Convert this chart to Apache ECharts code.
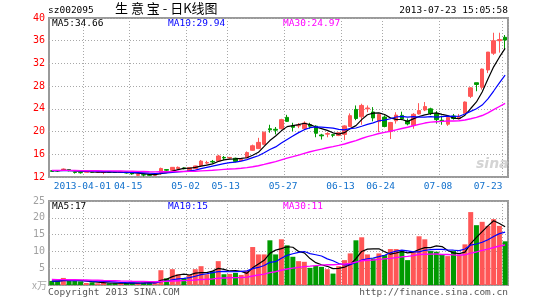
<!DOCTYPE html>
<html>
<head>
<meta charset="utf-8">
<script src="https://cdn.jsdelivr.net/npm/echarts@6/dist/echarts.min.js"></script>
<style>
html,body{margin:0;padding:0;background:#fff;}
#chart{width:545px;height:300px;}
</style>
</head>
<body>
<div id="chart"></div>
<script>
// ---------------- data ----------------
const dates = [
 '2013-03-22','2013-03-25','2013-03-26','2013-03-27','2013-03-28','2013-03-29',
 '2013-04-01','2013-04-02','2013-04-03','2013-04-08','2013-04-09','2013-04-10','2013-04-11','2013-04-12',
 '2013-04-15','2013-04-16','2013-04-17','2013-04-18','2013-04-19','2013-04-22','2013-04-23','2013-04-24','2013-04-25','2013-04-26',
 '2013-05-02','2013-05-03','2013-05-06','2013-05-07','2013-05-08','2013-05-09','2013-05-10',
 '2013-05-13','2013-05-14','2013-05-15','2013-05-16','2013-05-17','2013-05-20','2013-05-21','2013-05-22','2013-05-23','2013-05-24',
 '2013-05-27','2013-05-28','2013-05-29','2013-05-30','2013-05-31','2013-06-03','2013-06-04','2013-06-05','2013-06-06','2013-06-07',
 '2013-06-13','2013-06-14','2013-06-17','2013-06-18','2013-06-19','2013-06-20','2013-06-21',
 '2013-06-24','2013-06-25','2013-06-26','2013-06-27','2013-06-28','2013-07-01','2013-07-02','2013-07-03','2013-07-04','2013-07-05',
 '2013-07-08','2013-07-09','2013-07-10','2013-07-11','2013-07-12','2013-07-15','2013-07-16','2013-07-17','2013-07-18','2013-07-19',
 '2013-07-22','2013-07-23'
];
const opens = [
 13.10,13.15,13.15,13.30,12.85,12.80,12.85,12.95,12.85,12.80,12.90,12.85,12.80,12.90,12.70,12.30,12.40,12.40,12.30,12.80,
 13.30,13.20,13.50,13.60,13.00,13.50,14.00,14.45,14.75,14.80,15.45,15.35,15.30,14.90,15.40,16.70,17.00,17.75,20.50,20.40,
 20.50,22.50,21.00,21.00,20.50,21.20,20.95,19.40,19.55,19.45,19.30,19.50,20.90,23.90,22.60,24.00,23.45,21.75,22.55,20.00,
 21.90,22.85,21.85,21.10,23.10,23.80,24.00,23.20,22.00,21.30,22.75,22.30,23.20,26.20,28.60,27.80,30.85,33.80,36.00,36.60
];
const closes = [
 13.00,13.05,13.40,13.10,12.80,12.75,12.90,12.85,12.90,12.85,12.85,12.80,12.90,12.70,12.55,12.45,12.35,12.30,12.45,13.50,
 13.20,13.70,13.70,13.45,13.65,13.95,14.80,14.55,14.65,15.70,15.35,15.45,14.75,15.10,16.30,17.50,18.10,19.90,20.30,20.25,
 22.10,21.80,20.75,21.15,21.50,20.95,19.70,19.25,19.65,19.35,19.80,21.00,22.80,22.30,24.60,24.15,22.40,23.00,20.90,21.60,
 22.90,22.25,21.35,23.04,23.70,24.40,23.20,22.10,21.80,22.50,22.30,22.60,25.20,27.70,28.30,31.00,34.00,36.00,36.20,36.11
];
const lows = [
 12.95,12.90,13.10,13.00,12.60,12.60,12.80,12.75,12.70,12.50,12.80,12.70,12.75,12.60,12.40,12.20,12.10,12.20,12.25,12.40,
 13.05,13.10,13.40,13.35,12.90,13.40,13.80,14.20,14.40,14.70,15.00,15.20,14.60,14.80,15.30,16.60,17.00,17.60,19.80,19.50,
 20.40,21.70,20.05,20.60,20.40,20.50,19.00,18.60,19.00,19.00,19.20,18.50,20.80,22.00,21.20,23.40,21.80,19.90,20.75,18.70,
 21.40,22.00,21.10,20.50,23.00,23.60,22.90,21.40,21.20,21.00,22.10,22.10,23.10,25.90,27.10,27.40,30.30,33.50,33.90,34.40
];
const highs = [
 13.15,13.20,13.50,13.35,12.90,12.90,12.95,13.00,12.95,12.90,12.95,12.90,12.95,12.95,12.75,12.55,12.60,12.45,12.50,13.65,
 13.35,13.75,13.85,13.70,13.75,14.00,15.00,14.85,15.00,15.90,15.70,15.50,15.40,15.15,16.50,17.70,18.90,19.95,21.20,20.80,
 22.25,22.95,21.55,21.50,21.80,21.55,21.10,19.60,19.90,19.60,19.90,21.10,23.20,24.60,24.90,24.60,24.30,23.10,22.85,21.70,
 23.40,23.50,22.30,23.25,25.00,25.20,24.20,23.60,22.80,22.60,23.10,23.10,25.30,27.80,28.60,31.10,34.00,37.40,37.40,37.00
];
const volumes = [
 1.2,1.3,2.1,1.2,1.2,1.1,0.6,0.8,0.5,0.6,0.5,0.5,0.5,0.6,0.7,0.6,0.7,0.8,0.6,4.4,
 2.0,4.7,3.2,2.0,3.0,4.7,5.6,3.2,4.1,7.1,3.2,3.3,3.6,3.0,4.3,11.3,9.1,9.1,13.3,9.1,
 13.6,11.8,8.4,7.1,6.9,5.1,5.7,5.4,4.7,3.4,5.6,7.4,9.4,13.3,14.2,9.1,7.9,9.4,8.9,10.7,
 10.7,10.1,7.4,10.1,14.5,13.6,10.1,9.9,9.1,8.6,10.1,9.1,12.1,21.7,17.8,18.8,17.6,19.6,17.6,13.0
];
// sessions before the first visible day (estimated from where the MA lines start)
const priorCloses = [
 13.25,13.30,13.20,13.15,13.30,13.35,13.20,13.10,13.15,13.25,13.30,13.20,13.10,13.05,13.15,
 13.20,13.25,13.10,13.00,13.05,13.15,13.20,13.10,13.05,13.15,13.20,13.10,13.15,13.20
];
const priorVolumes = [
 2.0,1.8,2.2,1.9,2.1,1.7,2.0,1.9,2.3,1.8,1.9,2.0,1.7,2.1,1.8,1.9,2.0,1.8,
 1.2,1.1,1.3,1.0,1.2,1.1,1.3,1.2,1.0,1.1,1.2
];
// date axis: dotted grid lines and tick labels
const gridDates  = ['2013-04-01','2013-04-15','2013-05-02','2013-05-13','2013-05-27','2013-06-13','2013-06-24','2013-07-08','2013-07-23'];
const labelDates = ['2013-04-01','2013-04-15','2013-05-02','2013-05-13','2013-05-27','2013-06-13','2013-06-24','2013-07-08','2013-07-23'];
const priceTicks  = [12, 16, 20, 24, 28, 32, 36, 40];
const volumeTicks = [0, 5, 10, 15, 20, 25];

// ---------------- helpers ----------------
function movingAverage(prior, values, n) {
  const all = prior.concat(values);
  return values.map((_, i) => {
    const end = prior.length + i;
    let s = 0;
    for (let k = end - n + 1; k <= end; k++) s += all[k];
    return +(s / n).toFixed(4);
  });
}
const UP = '#ff5656', DOWN = '#009a00';
const MONO = '"DejaVu Sans Mono", "Liberation Mono", monospace';

const ma5 = movingAverage(priorCloses, closes, 5);
const ma10 = movingAverage(priorCloses, closes, 10);
const ma30 = movingAverage(priorCloses, closes, 30);
const vma5 = movingAverage(priorVolumes, volumes, 5);
const vma10 = movingAverage(priorVolumes, volumes, 10);
const vma30 = movingAverage(priorVolumes, volumes, 30);
const last = a => a[a.length - 1];

const gridIdx = new Set(gridDates.map(d => dates.indexOf(d)));
const labelIdx = new Set(labelDates.map(d => dates.indexOf(d)));
const lastDate = dates[dates.length - 1];

const candleData = dates.map((_, i) => [opens[i], closes[i], lows[i], highs[i]]);
const volData = volumes.map((v, i) => ({
  value: v,
  itemStyle: { color: closes[i] >= opens[i] ? UP : DOWN }
}));

const splitStyle = { show: true, lineStyle: { color: '#a8a8a8', width: 1, type: [1, 2] } };

const xBase = {
  type: 'category', data: dates, boundaryGap: true,
  axisLine: { show: false }, axisTick: { show: false },
  splitLine: Object.assign({ interval: (i) => gridIdx.has(i) }, splitStyle)
};

function txt(text, pos, color, size, extra) {
  return Object.assign({
    type: 'text', silent: true,
    style: Object.assign({ text: text, fill: color, font: size + 'px ' + MONO }, extra || {})
  }, pos);
}

const chart = echarts.init(document.getElementById('chart'), null, { renderer: 'canvas' });
chart.setOption({
  animation: false,
  backgroundColor: '#ffffff',
  grid: [
    { left: 49, top: 18, width: 459, height: 159, show: true, borderColor: '#9a9a9a', borderWidth: 2, backgroundColor: 'transparent' },
    { left: 49, top: 201, width: 459, height: 84, show: true, borderColor: '#9a9a9a', borderWidth: 2, backgroundColor: 'transparent' }
  ],
  xAxis: [
    Object.assign({}, xBase, {
      gridIndex: 0,
      axisLabel: {
        show: true, interval: (i) => labelIdx.has(i), hideOverlap: false,
        margin: 5, color: '#1170cc', fontFamily: MONO, fontSize: 9.5,
        formatter: (v) => {
          const t = v === labelDates[0] ? v : v.slice(5);
          return v === lastDate ? '{e|' + t + '}' : '{n|' + t + '}';
        },
        rich: {
          n: { padding: [0, 8, 0, 0], color: '#1170cc', fontFamily: MONO, fontSize: 9.5 },
          e: { padding: [0, 34, 0, 0], color: '#1170cc', fontFamily: MONO, fontSize: 9.5 }
        }
      }
    }),
    Object.assign({}, xBase, { gridIndex: 1, axisLabel: { show: false } })
  ],
  yAxis: [
    {
      type: 'value', gridIndex: 0,
      min: priceTicks[0], max: priceTicks[priceTicks.length - 1], interval: priceTicks[1] - priceTicks[0],
      axisLine: { show: false }, axisTick: { show: false },
      splitLine: splitStyle,
      axisLabel: { color: '#ff0000', fontFamily: MONO, fontSize: 10, margin: 4 }
    },
    {
      type: 'value', gridIndex: 1,
      min: volumeTicks[0], max: volumeTicks[volumeTicks.length - 1], interval: volumeTicks[1] - volumeTicks[0],
      axisLine: { show: false }, axisTick: { show: false },
      splitLine: splitStyle,
      axisLabel: { color: '#a0a0a0', fontFamily: MONO, fontSize: 10, margin: 4,
                   formatter: (v) => v === 0 ? '' : String(v) }
    }
  ],
  series: [
    {
      type: 'candlestick', xAxisIndex: 0, yAxisIndex: 0, data: candleData,
      barWidth: 4,
      itemStyle: { color: UP, color0: DOWN, borderColor: UP, borderColor0: DOWN, borderWidth: 1 }
    },
    { type: 'line', xAxisIndex: 0, yAxisIndex: 0, data: ma5, symbol: 'none', silent: true,
      lineStyle: { color: '#000000', width: 1.2 }, z: 5 },
    { type: 'line', xAxisIndex: 0, yAxisIndex: 0, data: ma10, symbol: 'none', silent: true,
      lineStyle: { color: '#0000ff', width: 1.2 }, z: 5 },
    { type: 'line', xAxisIndex: 0, yAxisIndex: 0, data: ma30, symbol: 'none', silent: true,
      lineStyle: { color: '#ff00ff', width: 1.4 }, z: 5 },
    { type: 'bar', xAxisIndex: 1, yAxisIndex: 1, data: volData, barWidth: 5, silent: true },
    { type: 'line', xAxisIndex: 1, yAxisIndex: 1, data: vma5, symbol: 'none', silent: true,
      lineStyle: { color: '#000000', width: 1.2 }, z: 5 },
    { type: 'line', xAxisIndex: 1, yAxisIndex: 1, data: vma10, symbol: 'none', silent: true,
      lineStyle: { color: '#0000ff', width: 1.2 }, z: 5 },
    { type: 'line', xAxisIndex: 1, yAxisIndex: 1, data: vma30, symbol: 'none', silent: true,
      lineStyle: { color: '#ff00ff', width: 1.4 }, z: 5 }
  ],
  graphic: [
    txt('sz002095', { left: 48, top: 6 }, '#000000', 9.5),
    { type: 'text', left: 115, top: 2, silent: true,
      style: { text: '生 意 宝 - 日K线图', fill: '#000000', font: '13px "Noto Sans CJK SC", sans-serif' } },
    txt('2013-07-23 15:05:58', { right: 37, top: 6 }, '#000000', 9.5),
    txt('MA5:' + last(ma5).toFixed(2), { left: 52, top: 19 }, '#000000', 9.5),
    txt('MA10:' + last(ma10).toFixed(2), { left: 168, top: 19 }, '#0000ff', 9.5),
    txt('MA30:' + last(ma30).toFixed(2), { left: 283, top: 19 }, '#ff00ff', 9.5),
    txt('MA5:' + Math.floor(last(vma5)), { left: 52, top: 202 }, '#000000', 9.5),
    txt('MA10:' + Math.floor(last(vma10)), { left: 168, top: 202 }, '#0000ff', 9.5),
    txt('MA30:' + Math.floor(last(vma30)), { left: 283, top: 202 }, '#ff00ff', 9.5),
    { type: 'text', left: 32, top: 280, silent: true,
      style: { text: 'x万', fill: '#a8a8a8', font: '10px "Noto Sans CJK SC", sans-serif' } },
    txt('Copyright 2013 SINA.COM', { left: 48, top: 288 }, '#555555', 9.5),
    txt('http://finance.sina.com.cn', { right: 37, top: 288 }, '#555555', 9.5),
    { type: 'text', left: 476, top: 157, silent: true, z: 0,
      style: { text: 'sina', fill: '#d4d4d4', font: 'italic bold 14px "DejaVu Sans", sans-serif' } }
  ]
});
</script>
</body>
</html>
